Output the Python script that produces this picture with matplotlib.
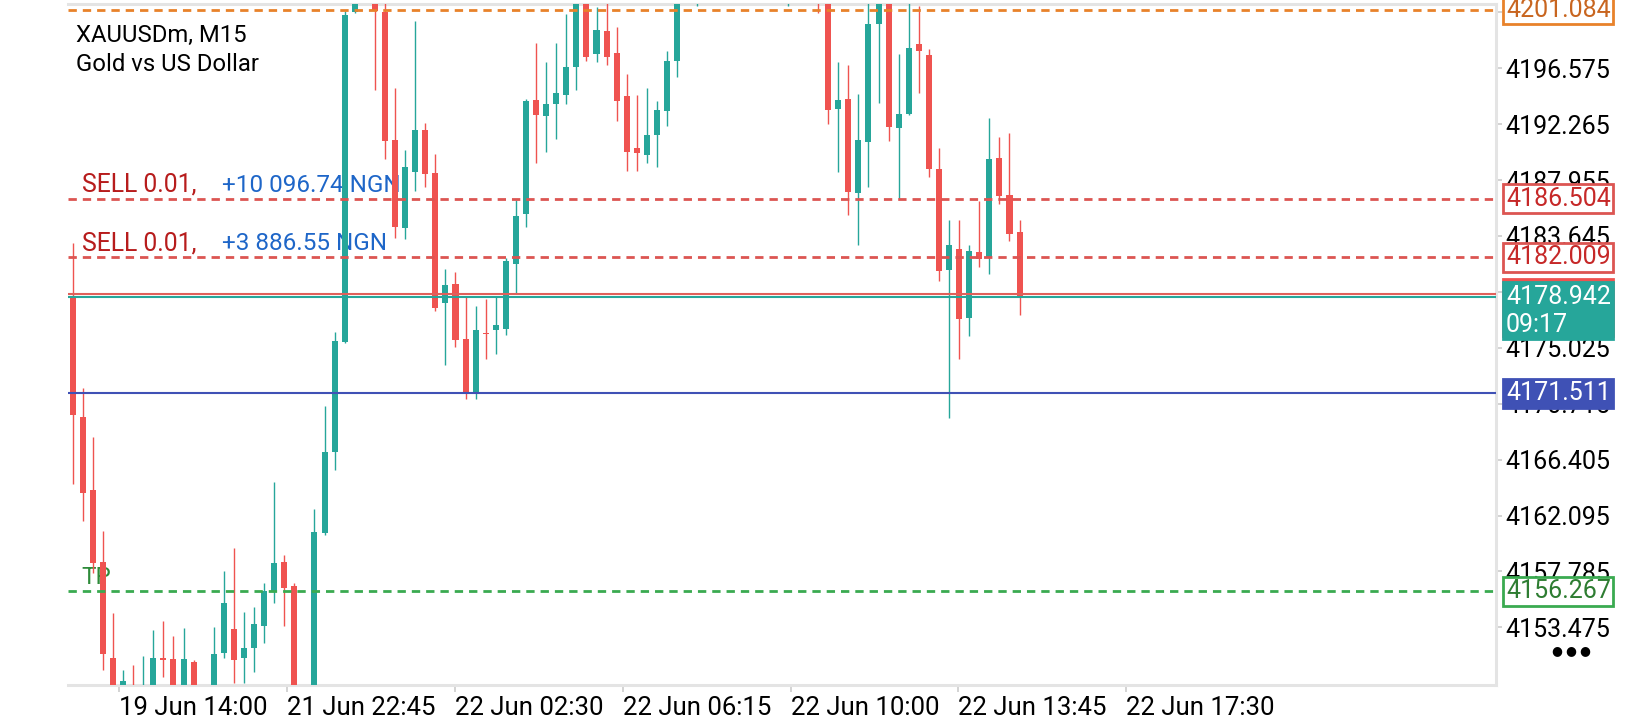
import matplotlib
matplotlib.use("Agg")
import matplotlib.pyplot as plt

plt.rcParams['font.family'] = ['Roboto', 'DejaVu Sans']
plt.rcParams['lines.scale_dashes'] = False

symbol = "XAUUSDm, M15"
description = "Gold vs US Dollar"

# M15 candles (values above/below the window are guesses)
opens = [4178.90, 4169.67, 4164.07, 4158.50, 4151.11, 4148.90, 4149.00, 4148.60, 4148.90, 4151.10,
         4151.03, 4148.80, 4150.82, 4148.70, 4148.30, 4151.52, 4153.34, 4151.11, 4151.90, 4153.60,
         4156.22, 4158.53, 4156.66, 4148.20, 4147.60, 4160.71, 4166.96, 4175.44, 4200.89, 4201.70,
         4203.00, 4200.89, 4191.08, 4184.26, 4188.61, 4191.83, 4188.51, 4178.51, 4179.94, 4175.70,
         4171.57, 4176.20, 4176.40, 4176.47, 4181.49, 4185.34, 4194.13, 4192.90, 4193.82, 4194.52,
         4196.70, 4202.10, 4197.68, 4199.45, 4197.78, 4194.44, 4190.40, 4189.89, 4191.43, 4193.28,
         4197.14, 4202.20, 4203.50, 4204.60, 4205.10, 4204.00, 4205.80, 4206.30, 4205.00, 4203.80,
         4204.20, 4205.00, 4205.70, 4204.80, 4204.10, 4203.40, 4193.44, 4194.21, 4186.99, 4190.92,
         4199.97, 4202.00, 4191.94, 4193.05, 4198.45, 4197.60, 4188.79, 4181.02, 4182.64, 4177.35,
         4182.39, 4181.92, 4189.68, 4186.80, 4183.98]
highs = [4183.07, 4171.91, 4168.14, 4160.88, 4154.55, 4150.18, 4150.57, 4151.26, 4153.27, 4153.96,
         4152.80, 4153.42, 4150.95, 4148.95, 4153.52, 4157.84, 4159.56, 4154.63, 4155.06, 4156.86,
         4164.70, 4159.05, 4156.86, 4148.80, 4162.57, 4170.55, 4176.22, 4201.00, 4202.30, 4203.60,
         4203.50, 4202.00, 4195.06, 4190.24, 4200.21, 4192.34, 4189.97, 4181.07, 4180.89, 4178.97,
         4178.25, 4178.76, 4178.97, 4181.92, 4186.42, 4194.18, 4198.55, 4197.09, 4198.55, 4200.76,
         4203.00, 4202.80, 4201.33, 4202.00, 4199.78, 4196.14, 4194.52, 4195.03, 4194.08, 4197.91,
         4203.00, 4204.00, 4205.20, 4206.00, 4205.80, 4206.20, 4207.00, 4206.80, 4205.90, 4204.90,
         4205.50, 4206.10, 4206.40, 4205.60, 4204.90, 4204.00, 4197.09, 4196.83, 4194.59, 4202.00,
         4202.60, 4202.50, 4197.68, 4202.00, 4201.38, 4198.04, 4190.46, 4184.88, 4184.88, 4182.95,
         4186.37, 4192.72, 4191.30, 4191.61, 4184.88]
lows = [4164.51, 4161.70, 4157.70, 4150.18, 4148.20, 4148.30, 4148.20, 4148.10, 4148.40, 4149.62,
        4148.30, 4148.40, 4148.20, 4147.90, 4148.00, 4151.08, 4149.15, 4149.15, 4150.05, 4152.29,
        4155.32, 4153.60, 4147.50, 4147.00, 4147.20, 4160.60, 4165.60, 4175.37, 4200.80, 4201.60,
        4194.90, 4189.56, 4183.52, 4183.45, 4187.15, 4187.42, 4177.90, 4173.70, 4175.06, 4171.05,
        4171.05, 4174.14, 4174.55, 4176.01, 4179.23, 4184.37, 4189.25, 4190.15, 4191.15, 4193.82,
        4194.90, 4197.16, 4197.09, 4196.83, 4192.54, 4188.68, 4188.68, 4189.30, 4188.99, 4192.13,
        4195.93, 4201.80, 4201.38, 4203.90, 4203.60, 4203.70, 4204.90, 4204.50, 4203.20, 4202.60,
        4203.40, 4201.38, 4204.20, 4203.30, 4200.81, 4192.28, 4188.61, 4185.27, 4182.95, 4187.40,
        4193.87, 4190.99, 4186.47, 4192.97, 4194.70, 4188.22, 4180.20, 4169.62, 4174.16, 4175.93,
        4181.22, 4180.69, 4186.09, 4183.28, 4177.55]
closes = [4169.87, 4163.84, 4158.47, 4151.39, 4148.90, 4149.30, 4148.60, 4148.95, 4151.08, 4150.98,
          4148.80, 4151.03, 4148.70, 4148.30, 4151.41, 4155.37, 4150.95, 4151.88, 4153.73, 4156.27,
          4158.46, 4156.53, 4148.20, 4147.60, 4160.80, 4166.96, 4175.54, 4200.65, 4201.65, 4203.00,
          4201.00, 4190.98, 4184.30, 4188.95, 4191.83, 4188.44, 4178.09, 4179.87, 4175.63, 4171.44,
          4176.40, 4176.08, 4176.78, 4181.74, 4185.18, 4194.05, 4192.97, 4193.82, 4194.64, 4196.70,
          4202.00, 4197.47, 4199.53, 4197.42, 4194.08, 4190.15, 4190.07, 4191.43, 4193.36, 4197.14,
          4202.20, 4203.50, 4204.60, 4205.10, 4204.00, 4205.80, 4206.30, 4205.00, 4203.80, 4204.20,
          4205.00, 4205.70, 4204.80, 4204.10, 4203.40, 4193.36, 4194.13, 4187.01, 4191.05, 4199.99,
          4201.90, 4192.02, 4193.05, 4198.12, 4197.93, 4188.81, 4180.97, 4182.95, 4177.24, 4182.49,
          4181.90, 4189.58, 4186.75, 4183.80, 4178.942]

time_labels = ["19 Jun 14:00", "21 Jun 22:45", "22 Jun 02:30", "22 Jun 06:15",
               "22 Jun 10:00", "22 Jun 13:45", "22 Jun 17:30"]
price_ticks = [4153.475, 4157.785, 4162.095, 4166.405, 4170.715, 4175.025,
               4179.335, 4183.645, 4187.955, 4192.265, 4196.575, 4200.885]

alert_price = 4201.084
sell_prices = [4186.504, 4182.009]
sell_texts = ["SELL 0.01,", "SELL 0.01,"]
sell_profits = ["+10 096.74 NGN", "+3 886.55 NGN"]
tp_price = 4156.267
level_price = 4171.511
bid = 4178.942
ask = 4179.16
bar_timer = "09:17"

BULL = '#26a69a'
BEAR = '#ef5350'

fig = plt.figure(figsize=(16.4, 7.2), dpi=100)
ax = fig.add_axes([68 / 1640, 35 / 720, 1428 / 1640, 681 / 720])

idx = list(range(len(opens)))
cols = [BULL if c >= o else BEAR for o, c in zip(opens, closes)]
bottoms = [min(o, c) for o, c in zip(opens, closes)]
heights = [max(abs(c - o), 0.08) for o, c in zip(opens, closes)]

ax.vlines(idx, lows, highs, colors=cols, linewidth=1.0, zorder=3)
ax.bar(idx, heights, bottom=bottoms, width=0.6, color=cols, linewidth=0, zorder=3)

ax.set_xlim(-0.47, 141.3)
ax.set_ylim(4149.03, 4201.53)

dash = (0, (6.0, 4.3))
ax.axhline(alert_price, color='#e8822a', lw=2.0, ls=dash, zorder=4)
for p in sell_prices:
    ax.axhline(p, color='#dc5552', lw=2.0, ls=dash, zorder=4)
ax.axhline(tp_price, color='#3aaa50', lw=2.0, ls=dash, zorder=4)
ax.axhline(ask, color='#e0605a', lw=1.5, zorder=4)
ax.axhline(bid, color=BULL, lw=1.5, zorder=4)
ax.axhline(level_price, color='#3f51b5', lw=1.5, zorder=4)

ytr = ax.get_yaxis_transform()
for p, s, pr in zip(sell_prices, sell_texts, sell_profits):
    ax.annotate(s, xy=(0, p), xycoords=ytr, xytext=(14, 7), textcoords='offset pixels',
                color='#b71c1c', fontsize=17.8, va='baseline', zorder=2)
    ax.annotate(pr, xy=(0, p), xycoords=ytr, xytext=(154, 7), textcoords='offset pixels',
                color='#1e66c8', fontsize=17.5, va='baseline', zorder=2)
ax.annotate("TP", xy=(0, tp_price), xycoords=ytr, xytext=(13, 7), textcoords='offset pixels',
            color='#2e8b3a', fontsize=17.5, va='baseline', zorder=2)

# time axis
tick_start, tick_step = 4.56, 16.675
ax.set_xticks([tick_start + k * tick_step for k in range(len(time_labels))], time_labels)
for lbl in ax.get_xticklabels():
    lbl.set_horizontalalignment('left')
ax.tick_params(axis='x', length=5, width=1.2, color='#cccccc', labelsize=18.5, pad=3)

# price axis; labels that sit under a price box are covered in the app, so leave them blank
boxed = [alert_price, bid]
ax.yaxis.tick_right()
ax.set_yticks(price_ticks, ["" if min(abs(p - b) for b in boxed) < 1.0 else f"{p:.3f}"
                            for p in price_ticks])
ax.tick_params(axis='y', length=4, width=1.2, color='#cccccc', labelsize=18, pad=3)

ax.spines['left'].set_visible(False)
for side in ['bottom', 'right', 'top']:
    ax.spines[side].set_color('#e4e4e4')
    ax.spines[side].set_linewidth(2.2)


def price_box(price, text, fc, ec, tc, dy=0, va='center'):
    ax.annotate(text, xy=(1, price), xycoords=ytr, xytext=(10, dy), textcoords='offset pixels',
                color=tc, fontsize=18, va=va, ha='left', annotation_clip=False, zorder=6,
                bbox=dict(boxstyle='square,pad=0.1', fc=fc, ec=ec, lw=2))


price_box(alert_price, f"{alert_price:.3f}", 'white', '#e8822a', '#c8651f')
for p in sell_prices:
    price_box(p, f"{p:.3f}", 'white', '#dc5552', '#c62828')
price_box(tp_price, f"{tp_price:.3f}", 'white', '#3aaa50', '#2e7d32')
price_box(level_price, f"{level_price:.3f}", '#3f51b5', '#3f51b5', 'white')
price_box(bid, f"{bid:.3f}\n{bar_timer}", BEAR, BEAR, BEAR, dy=15, va='top')
price_box(bid, f"{bid:.3f}\n{bar_timer}", BULL, BULL, 'white', dy=12, va='top')

fig.text(76 / 1640, 1 - 42 / 720, symbol, fontsize=17.2, color='black', va='baseline')
fig.text(76 / 1640, 1 - 71 / 720, description, fontsize=17.2, color='black', va='baseline')
fig.text(1571 / 1640, 1 - 651 / 720, "\u25cf \u25cf \u25cf", fontsize=9, color='black',
         ha='center', va='center')

fig.savefig('out.png', dpi=100)
